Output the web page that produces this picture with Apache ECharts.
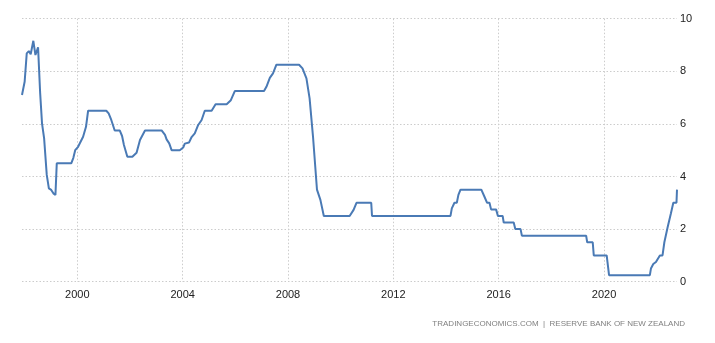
<!DOCTYPE html>
<html>
<head>
<meta charset="utf-8">
<script src="https://cdn.jsdelivr.net/npm/echarts@6/dist/echarts.min.js"></script>
<style>html,body{margin:0;padding:0;background:#fff}#c{width:715px;height:343px}</style>
</head>
<body>
<div id="c"></div>
<script>
// Decimal-year x values and rate values (percent)
const years = [
  1997.90,1998.00,1998.08,1998.16,1998.23,1998.33,1998.41,1998.51,1998.59,1998.66,
  1998.74,1998.84,1998.92,1999.01,1999.09,1999.17,1999.22,1999.77,1999.85,1999.92,
  2000.03,2000.22,2000.33,2000.41,2001.10,2001.19,2001.29,2001.42,2001.61,2001.70,
  2001.77,2001.90,2002.09,2002.25,2002.38,2002.57,2003.20,2003.33,2003.39,2003.49,
  2003.58,2003.89,2004.02,2004.08,2004.24,2004.34,2004.46,2004.59,2004.72,2004.84,
  2005.10,2005.25,2005.67,2005.83,2005.98,2007.09,2007.18,2007.31,2007.43,2007.56,
  2008.42,2008.55,2008.70,2008.82,2008.95,2009.10,2009.23,2009.36,2010.34,2010.49,
  2010.60,2011.16,2011.19,2014.17,2014.22,2014.32,2014.41,2014.47,2014.55,2015.34,
  2015.46,2015.56,2015.65,2015.71,2015.90,2015.97,2016.15,2016.19,2016.57,2016.63,
  2016.83,2016.88,2019.32,2019.36,2019.57,2019.61,2020.10,2020.19,2021.74,2021.78,
  2021.87,2021.97,2022.12,2022.22,2022.29,2022.41,2022.54,2022.63,2022.75,2022.77
];
const rates = [
  7.10,7.60,8.68,8.77,8.65,9.16,8.62,8.91,7.16,6.02,
  5.45,4.06,3.55,3.49,3.36,3.30,4.50,4.50,4.71,5.00,
  5.13,5.51,5.89,6.50,6.50,6.40,6.15,5.75,5.75,5.54,
  5.20,4.75,4.75,4.90,5.39,5.75,5.75,5.58,5.41,5.26,
  5.00,5.00,5.10,5.25,5.29,5.50,5.64,5.96,6.15,6.50,
  6.50,6.75,6.75,6.90,7.25,7.25,7.41,7.75,7.92,8.25,
  8.25,8.11,7.73,6.97,5.51,3.50,3.11,2.50,2.50,2.73,
  3.00,3.00,2.50,2.50,2.79,3.00,3.00,3.30,3.50,3.50,
  3.23,3.00,3.00,2.75,2.75,2.50,2.50,2.25,2.25,2.00,
  2.00,1.75,1.75,1.50,1.50,1.00,1.00,0.25,0.25,0.50,
  0.67,0.75,1.00,1.00,1.50,2.05,2.60,3.00,3.00,3.50
];
const xTickYears = [2000, 2004, 2008, 2012, 2016, 2020];
const yTicks = [0, 2, 4, 6, 8, 10];
const sourceText = 'TRADINGECONOMICS.COM  |  RESERVE BANK OF NEW ZEALAND';

const chart = echarts.init(document.getElementById('c'), null, {renderer: 'canvas'});
const gridLine = {show: true, lineStyle: {color: '#cccccc', type: [1.5, 2], width: 1}};
chart.setOption({
  animation: false,
  backgroundColor: '#ffffff',
  grid: {left: 22, right: 38, top: 18.7, bottom: 61.3, containLabel: false},
  xAxis: {
    type: 'value',
    min: years[0],
    max: years[years.length - 1],
    axisLine: {show: false},
    axisTick: {show: false, customValues: xTickYears},
    axisLabel: {customValues: xTickYears, color: '#222', fontSize: 11, fontFamily: 'Liberation Sans', margin: 8,
                formatter: v => String(Math.round(v))},
    splitLine: gridLine
  },
  yAxis: {
    type: 'value',
    position: 'right',
    min: yTicks[0],
    max: yTicks[yTicks.length - 1],
    interval: 2,
    axisLine: {show: false},
    axisTick: {show: false},
    axisLabel: {color: '#222', fontSize: 11, fontFamily: 'Liberation Sans', margin: 3, align: 'left'},
    splitLine: gridLine
  },
  series: [{
    type: 'line',
    data: years.map((y, i) => [y, rates[i]]),
    showSymbol: false,
    lineStyle: {color: '#4a7ab5', width: 2},
    itemStyle: {color: '#4a7ab5'}
  }],
  graphic: [{
    type: 'text',
    right: 30,
    top: 320,
    style: {text: sourceText, fill: '#808080', font: '8px "Liberation Sans"'}
  }]
});
</script>
</body>
</html>
